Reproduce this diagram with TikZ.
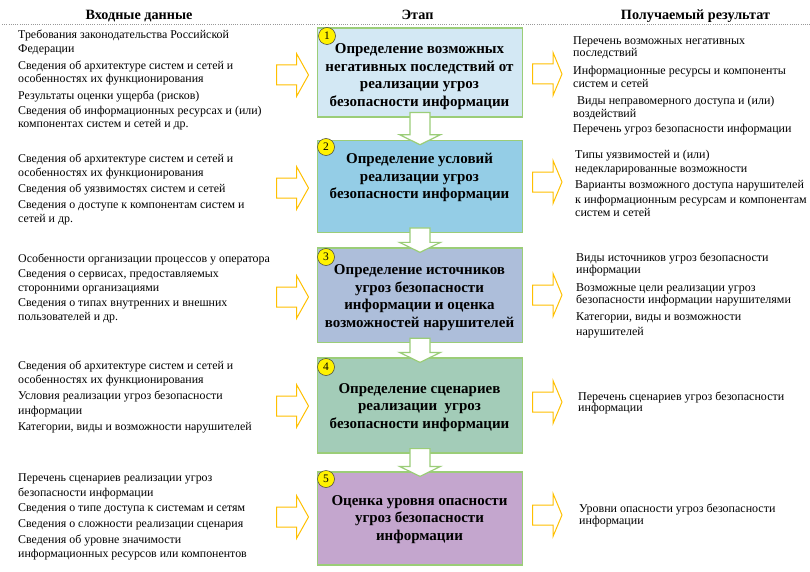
\documentclass[tikz,border=0pt]{standalone}
\usepackage{fontspec}
\setmainfont{Liberation Serif}
\usetikzlibrary{calc}
\definecolor{bx1}{RGB}{211,232,244}
\definecolor{bx2}{RGB}{148,205,230}
\definecolor{bx3}{RGB}{173,190,218}
\definecolor{bx4}{RGB}{163,204,184}
\definecolor{bx5}{RGB}{196,166,206}
\definecolor{bord}{RGB}{155,205,120}
\definecolor{yarr}{RGB}{255,192,0}
\newcommand\DArr[2]{%
  \draw[darr] let \p1=(#1.south), \p2=(#2.north) in
    (\x1-10pt,\y1+5pt) -- (\x1+10pt,\y1+5pt) -- (\x1+10pt,\y2+5pt) -- (\x1+20.5pt,\y2+5pt)
    -- (\x1,\y2-5pt) -- (\x1-20.5pt,\y2+5pt) -- (\x1-10pt,\y2+5pt) -- cycle;}
\newcommand\LArr[1]{%
  \draw[yarr] (276.5,#1-10) -- (296.5,#1-10) -- (296.5,#1-21.5) -- (308.5,#1)
    -- (296.5,#1+21.5) -- (296.5,#1+10) -- (276.5,#1+10) -- cycle;}
\newcommand\RArr[1]{%
  \draw[yarr] (532.5,#1-10) -- (553,#1-10) -- (553,#1-21.5) -- (562,#1)
    -- (553,#1+21.5) -- (553,#1+10) -- (532.5,#1+10) -- cycle;}
\begin{document}
\begin{tikzpicture}[x=1pt,y=-1pt,
  box/.style={draw=bord, line width=1.2pt, minimum width=205pt, inner sep=0pt},
  tb/.style={align=center, inner sep=0pt, font=\fontsize{15}{17.5}\selectfont\bfseries},
  lt/.style={anchor=west, inner sep=0pt, font=\fontsize{11.9}{13}\selectfont, text height=6pt, text depth=0pt},
  rt/.style={lt, font=\fontsize{12}{13}\selectfont},
  hd/.style={inner sep=0pt, font=\fontsize{14.2}{15}\selectfont\bfseries},
  numc/.style={circle, fill=yellow, draw=black!75, line width=0.5pt, minimum size=17pt, inner sep=0pt, font=\fontsize{11.5}{11.5}\selectfont},
  darr/.style={draw=bord, fill=white, line width=1.2pt, line join=miter},
  yarr/.style={draw=yarr, fill=white, line width=1pt, line join=miter}]
\useasboundingbox (0,0) rectangle (810,572);
\fill[white] (0,0) rectangle (810,572);
% headers
\node[hd] (h1) at (139,16) {Входные данные};
\node[hd] (h2) at (417.5,15) {Этап};
\node[hd] (h3) at (695.5,16) {Получаемый результат};
\draw[black!40, line width=0.8pt, dash pattern=on 1pt off 1.2pt] (2,24) -- (810,24);
% boxes
\node[box, fill=bx1, minimum height=89pt] (b1) at (420,72.5) {};
\node[box, fill=bx2, minimum height=92pt] (b2) at (420,186.3) {};
\node[box, fill=bx3, minimum height=94.7pt] (b3) at (420,295.3) {};
\node[box, fill=bx4, minimum height=95pt] (b4) at (420,405.5) {};
\node[box, fill=bx5, minimum height=93pt] (b5) at (420,518.5) {};
\node[tb] (t1) at (419.5,76.5) {Определение возможных\\негативных последствий от\\реализации угроз\\безопасности информации};
\node[tb] (t2) at (419.5,177.5) {Определение условий\\реализации угроз\\безопасности информации};
\node[tb] (t3) at (419.5,297.5) {Определение источников\\угроз безопасности\\информации и оценка\\возможностей нарушителей};
\node[tb] (t4) at (419.5,407.5) {Определение сценариев\\реализации~ угроз\\безопасности информации};
\node[tb] (t5) at (419.5,519.5) {Оценка уровня опасности\\угроз безопасности\\информации};
\node[numc] (n1) at (327,36) {1};
\node[numc] (n2) at (326,147) {2};
\node[numc] (n3) at (326,257) {3};
\node[numc] (n4) at (326,367) {4};
\node[numc] (n5) at (326,479) {5};
% down arrows
\DArr{b1}{b2}
\DArr{b2}{b3}
\DArr{b3}{b4}
\DArr{b4}{b5}
% yellow arrows
\LArr{75}\LArr{188}\LArr{297}\LArr{406}\LArr{517}
\RArr{74}\RArr{182}\RArr{295}\RArr{402}\RArr{515}
% left texts
\foreach \yy/\txt [count=\i] in {
  36/{Требования законодательства Российской},
  50/{Федерации},
  67/{Сведения об архитектуре систем и сетей и},
  80/{особенностях их функционирования},
  97/{Результаты оценки ущерба (рисков)},
  112/{Сведения об информационных ресурсах и (или)},
  125/{компонентах систем и сетей и др.},
  160/{Сведения об архитектуре систем и сетей и},
  173/{особенностях их функционирования},
  189/{Сведения об уязвимостях систем и сетей},
  205/{Сведения о доступе к компонентам систем и},
  219/{сетей и др.},
  259/{Особенности организации процессов у оператора},
  274/{Сведения о сервисах, предоставляемых},
  288/{сторонними организациями},
  303/{Сведения о типах внутренних и внешних},
  317/{пользователей и др.},
  366/{Сведения об архитектуре систем и сетей и},
  380/{особенностях их функционирования},
  396/{Условия реализации угроз безопасности},
  411/{информации},
  427/{Категории, виды и возможности нарушителей},
  478/{Перечень сценариев реализации угроз},
  493/{безопасности информации},
  508/{Сведения о типе доступа к системам и сетям},
  524/{Сведения о сложности реализации сценария},
  540/{Сведения об уровне значимости},
  554/{информационных ресурсов или компонентов}}
  {\node[lt] (l\i) at (18,\yy) {\txt};}
% right texts
\foreach \xx/\yy/\txt [count=\i] in {
  573/42/{Перечень возможных негативных},
  573/54/{последствий},
  573/72/{Информационные ресурсы и компоненты},
  573/85/{систем и сетей},
  577/102/{Виды неправомерного доступа и (или)},
  573/115/{воздействий},
  573/130/{Перечень угроз безопасности информации},
  575/155/{Типы уязвимостей и (или)},
  575/169/{недекларированные возможности},
  575/185/{Варианты возможного доступа нарушителей},
  575/200/{к информационным ресурсам и компонентам},
  575/213/{систем и сетей},
  576/258/{Виды источников угроз безопасности},
  576/270/{информации},
  576/288/{Возможные цели реализации угроз},
  576/300/{безопасности информации нарушителями},
  576/317/{Категории, виды и возможности},
  576/332/{нарушителей},
  578/397/{Перечень сценариев угроз безопасности},
  578/408/{информации},
  579/509/{Уровни опасности угроз безопасности},
  579/521/{информации}}
  {\node[rt] (r\i) at (\xx,\yy) {\txt};}
\end{tikzpicture}
\end{document}
